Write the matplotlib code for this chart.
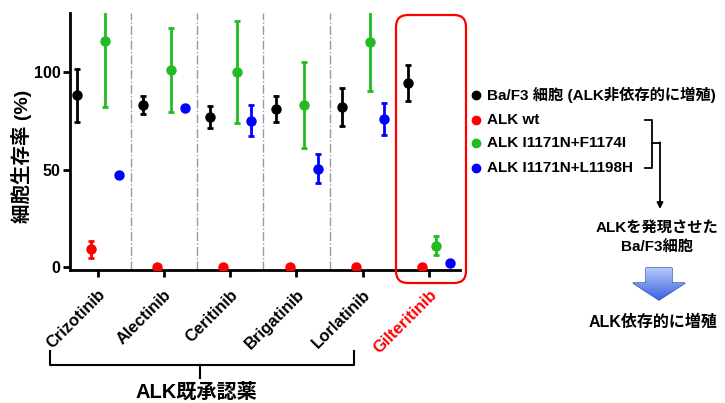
import matplotlib
matplotlib.use("Agg")
import matplotlib.pyplot as plt
import numpy as np
from matplotlib.patches import FancyBboxPatch, Polygon
from matplotlib.colors import LinearSegmentedColormap

plt.rcParams['font.family'] = ['Liberation Sans', 'Noto Sans CJK JP', 'DejaVu Sans']
plt.rcParams['font.weight'] = 'bold'

drugs = ['Crizotinib', 'Alectinib', 'Ceritinib', 'Brigatinib', 'Lorlatinib', 'Gilteritinib']
baf3 = [88, 83, 77, 81, 82, 94.5]
baf3_err = [13.5, 4.7, 5.7, 6.8, 9.8, 9.3]
wt = [9, 0, 0, 0, 0, 0]
wt_err = [4.2, 0, 0, 0, 0, 0]
f1174 = [116, 101, 100, 83, 115.5, 11]
f1174_err = [34, 21.5, 26, 22, 25, 5]
l1198 = [47, 81.5, 75, 50.5, 76, 2]
l1198_err = [0, 0, 8, 7.3, 8.3, 0]

series = [
    ('Ba/F3 細胞 (ALK非依存的に増殖)', baf3, baf3_err, '#000000'),
    ('ALK wt', wt, wt_err, '#ff0000'),
    ('ALK I1171N+F1174I', f1174, f1174_err, '#22bb22'),
    ('ALK I1171N+L1198H', l1198, l1198_err, '#0000ff'),
]
offsets = [-0.31, -0.10, 0.11, 0.32]

W, H = 725, 403
fig = plt.figure(figsize=(W / 100, H / 100), dpi=100)
ax = fig.add_axes([70 / W, 1 - 270 / H, 390 / W, 257 / H])

x = np.arange(len(drugs))
for (name, vals, errs, col), off in zip(series, offsets):
    ax.errorbar(x + off, vals, yerr=errs, fmt='o', color=col, ms=6.5,
                elinewidth=2, capsize=2.5, capthick=2, zorder=3)

for xv in [0.5, 1.5, 2.5, 3.5]:
    ax.axvline(xv, color='#999999', ls='-.', lw=1, zorder=1)

ax.set_xlim(-0.415, 5.467)
ax.set_ylim(-1.54, 130.3)
ax.set_yticks([0, 50, 100])
ax.set_xticks(x)
ax.set_xticklabels(drugs, rotation=45, ha='right', va='top', rotation_mode='anchor',
                   fontsize=12, fontweight='bold')
ax.get_xticklabels()[-1].set_color('#ff0000')
for lab in ax.get_yticklabels():
    lab.set_fontsize(11.5)
    lab.set_fontweight('bold')
for s in ['top', 'right']:
    ax.spines[s].set_visible(False)
for s in ['left', 'bottom']:
    ax.spines[s].set_linewidth(2)
ax.tick_params(axis='both', width=2, length=5, pad=2)
ax.tick_params(axis='x', pad=7)

# overlay in pixel coordinates
ov = fig.add_axes([0, 0, 1, 1])
ov.set_xlim(0, W)
ov.set_ylim(H, 0)
ov.axis('off')

ov.text(22, 156, '細胞生存率 (%)', rotation=90, ha='center', va='center',
        fontsize=14, fontweight='bold')

# red rounded box
box = FancyBboxPatch((3.96, (403 - 283) / 100), 0.70, 2.68,
                     boxstyle="round,pad=0,rounding_size=0.12",
                     transform=fig.dpi_scale_trans, fill=False,
                     edgecolor='#ff0000', lw=1.6)
fig.add_artist(box)

# bracket under approved drugs
ov.plot([50, 50, 354, 354], [351, 365, 365, 351], color='black', lw=1.5)
ov.plot([200, 200], [365, 378], color='black', lw=1.5)
ov.text(196, 392, 'ALK既承認薬', ha='center', va='center', fontsize=14.5, fontweight='bold')

# legend
ly = [95, 120, 143, 168]
for (name, vals, errs, col), yy in zip(series, ly):
    ov.plot(476, yy, 'o', color=col, ms=6)
    ov.text(487, yy, name, ha='left', va='center', fontsize=11, fontweight='bold')

# right bracket and arrow
ov.plot([645, 652, 652, 645], [120, 120, 168, 168], color='black', lw=1.3)
ov.plot([652, 660], [143, 143], color='black', lw=1.3)
ov.annotate('', xy=(660, 209), xytext=(660, 142.4),
            arrowprops=dict(arrowstyle='-|>', color='black', lw=1.3,
                            mutation_scale=9, shrinkA=0, shrinkB=0))
ov.text(657, 228, 'ALKを発現させた', ha='center', va='center', fontsize=11, fontweight='bold')
ov.text(657, 247, 'Ba/F3細胞', ha='center', va='center', fontsize=11, fontweight='bold')

# big blue gradient arrow
pts = [(646, 268), (672, 268), (672, 283), (685, 283), (659, 300), (633, 283), (646, 283)]
poly = Polygon(pts, closed=True, facecolor='none', edgecolor='#3050b0', lw=1)
ov.add_patch(poly)
grad = np.linspace(0, 1, 64).reshape(-1, 1)
cmap = LinearSegmentedColormap.from_list('bl', ['#b4c8fa', '#3d62e0'])
im = ov.imshow(grad, extent=(633, 685, 300, 268), cmap=cmap, aspect='auto', zorder=1)
im.set_clip_path(poly)
ov.set_xlim(0, W)
ov.set_ylim(H, 0)

ov.text(653, 322, 'ALK依存的に増殖', ha='center', va='center', fontsize=11.5, fontweight='bold')

fig.savefig('out.png', dpi=100)
